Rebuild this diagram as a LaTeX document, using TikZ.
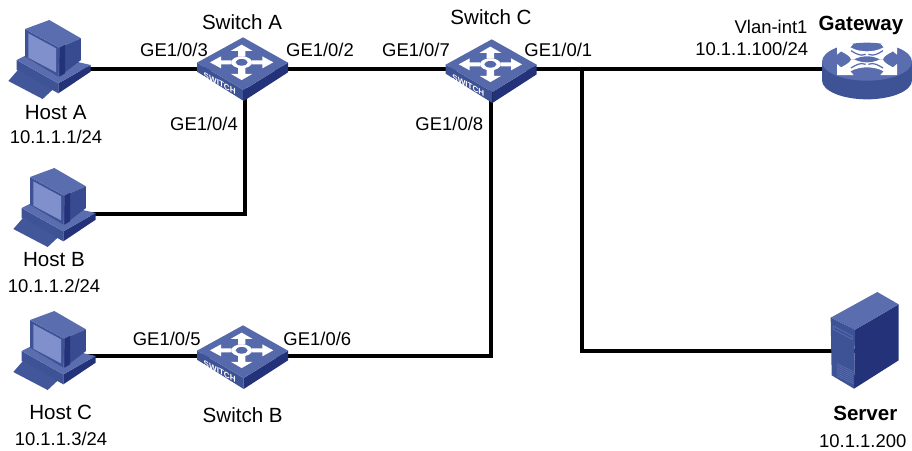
\documentclass[tikz,border=0pt]{standalone}
\usepackage{fontspec}
\setmainfont{Liberation Sans}
\usetikzlibrary{calc}

\definecolor{iconlight}{RGB}{90,110,175}
\definecolor{iconmid}{RGB}{62,82,150}
\definecolor{icondark}{RGB}{36,50,122}
\definecolor{iconscreen}{RGB}{128,144,204}

\tikzset{
    hostpc/.pic={
        \fill[iconmid!85!iconlight] (-125,36) -- (-97,4) -- (8,62) -- (-22,90) -- cycle;
        \fill[iconmid] (-100,-27) -- (25,43) -- (25,73) -- (-100,3) -- cycle;
        \fill[icondark] (25,43) -- (122,-12) -- (122,8) -- (25,73) -- cycle;
        \fill[iconlight] (-100,-27) -- (-50,-52) -- (122,-12) -- (25,43) -- cycle;
        \fill[iconmid] (-75,-120) -- (28,-64) -- (25,23) -- (-75,-37) -- cycle;
        \fill[iconlight] (-75,-120) -- (-2,-147) -- (93,-92) -- (28,-64) -- cycle;
        \fill[iconmid!80!icondark] (28,-64) -- (93,-92) -- (93,-27) -- (28,23) -- cycle;
        \fill[icondark] (28,-64) -- (45,-72) -- (45,13) -- (28,23) -- cycle;
        \fill[iconscreen] (-65,-107) -- (18,-62) -- (18,10) -- (-65,-34) -- cycle;
    },
    switchbox/.pic={
        \fill[iconmid] (-138,-19) -- (2,63) -- (2,96) -- (-138,8) -- cycle;
        \fill[icondark] (2,63) -- (135,-19) -- (135,10) -- (2,96) -- cycle;
        \fill[iconlight!85!iconmid] (-138,-19) -- (0,-95) -- (135,-19) -- (2,63) -- cycle;
        \begin{scope}[shift={(-4,-20)}]
            \foreach \ang in {0,90,180,270} {
                \begin{scope}[yscale=0.56, rotate=\ang]
                    \fill[white] (30,-11) -- (62,-11) -- (62,-32) -- (95,0) -- (62,32) -- (62,11) -- (30,11) -- cycle;
                \end{scope}
            }
            \fill[white] (0,0) ellipse (31 and 18);
            \fill[iconlight!85!iconmid] (0,0) ellipse (18 and 10);
        \end{scope}
        \begin{scope}[shift={(-70,43)}, yslant=-0.55]
            \node[swlabel, transform shape] (swtag) {SWITCH};
        \end{scope}
    },
    gatewaybox/.pic={
        \fill[iconmid] (-135,-22) -- (-135,34) arc[start angle=180, end angle=0, x radius=135, y radius=57] -- (135,-22) -- cycle;
        \fill[iconlight] (0,-22) ellipse (135 and 57);
        \begin{scope}[shift={(0,-29)}]
            \foreach \sx/\sy in {1/1,-1/1,1/-1,-1/-1} {
                \begin{scope}[xscale=\sx, yscale=\sy]
                    \fill[white] (90,47) -- (90,14) -- (78,24) .. controls (60,15) and (50,8) .. (48,0) -- (0,0) -- (0,24) .. controls (15,24) and (35,27) .. (50,36) -- (40,47) -- cycle;
                    \draw[iconlight, line width=0.7pt] (4,15) .. controls (20,8) and (35,18) .. (48,26);
                \end{scope}
            }
            \fill[iconlight] (-38,0) .. controls (-15,-12) and (15,-12) .. (38,0) .. controls (15,12) and (-15,12) .. (-38,0) -- cycle;
        \end{scope}
    },
    serverbox/.pic={
        \fill[icondark] (-30,-64) -- (101,-140) -- (101,28) -- (-33,113) -- cycle;
        \fill[iconlight] (-103,-100) -- (37,-177) -- (101,-140) -- (-30,-64) -- cycle;
        \fill[iconmid] (-103,-100) -- (-30,-64) -- (-33,113) -- (-100,73) -- cycle;
        \foreach \i in {0,...,6} {
            \draw[iconlight, line width=0.4pt] (-85,{38+\i*6}) -- (-35,{62+\i*6});
        }
        \draw[iconlight, line width=0.4pt] (-95,-75) -- (-38,-45) -- (-38,-35) -- (-95,-65) -- cycle;
    }
}

\begin{document}
\begin{tikzpicture}[x=0.02cm, y=-0.02cm,
                    iconbox/.style={inner sep=0pt, minimum size=0pt},
                    portlabel/.style={inner sep=0pt, font=\fontsize{10.5}{12}\selectfont},
                    namelabel/.style={inner sep=0pt, font=\fontsize{11.7}{14}\selectfont},
                    boldlabel/.style={inner sep=0pt, font=\fontsize{11.7}{14}\selectfont\bfseries},
                    swlabel/.style={inner sep=0pt, white, font=\fontsize{4.6}{5}\selectfont\bfseries},
                    link/.style={line width=1.9pt, black},
                    icon/.style={x=0.00667cm, y=-0.00667cm}]

    \useasboundingbox (0,0) rectangle (912,450);

    \node[iconbox] (hosta) at (50,69) {};
    \node[iconbox] (hostb) at (55,214) {};
    \node[iconbox] (hostc) at (55,356) {};
    \node[iconbox] (switcha) at (245,69) {};
    \node[iconbox] (switchb) at (243,356) {};
    \node[iconbox] (switchc) at (491,69) {};
    \node[iconbox] (gateway) at (867,69) {};
    \node[iconbox] (server) at (865,351) {};
    \coordinate (tap) at (582,69);
    \coordinate (hostbicon) at (55,217);
    \coordinate (hostcicon) at (55,360);
    \coordinate (switchaicon) at (243,69);
    \coordinate (switchbicon) at (243,357);
    \coordinate (switchcicon) at (491.7,71);

    \draw[link] (hosta) -- (switcha);
    \draw[link] (hostb) -| (switcha);
    \draw[link] (hostc) -- (switchb);
    \draw[link] (switcha) -- (switchc);
    \draw[link] (switchb) -| (switchc);
    \draw[link] (switchc) -- (gateway);
    \draw[link] (tap) |- (server);

    \pic[icon] at (hosta) {hostpc};
    \pic[icon] at (hostbicon) {hostpc};
    \pic[icon] at (hostcicon) {hostpc};
    \pic[icon] at (switchaicon) {switchbox};
    \pic[icon] at (switchbicon) {switchbox};
    \pic[icon] at (switchcicon) {switchbox};
    \pic[icon] at (gateway) {gatewaybox};
    \pic[icon] at (server) {serverbox};

    \node[namelabel] (labhosta) at (55.7,112.7) {Host A};
    \node[portlabel] (iphosta) at (56,137) {10.1.1.1/24};
    \node[namelabel] (labhostb) at (54,260) {Host B};
    \node[portlabel] (iphostb) at (54,286) {10.1.1.2/24};
    \node[namelabel] (labhostc) at (60.7,412.7) {Host C};
    \node[portlabel] (iphostc) at (61,439) {10.1.1.3/24};
    \node[namelabel] (labswitcha) at (242,22) {Switch A};
    \node[namelabel] (labswitchb) at (242.7,415) {Switch B};
    \node[namelabel] (labswitchc) at (491,16.7) {Switch C};
    \node[portlabel] (porta3) at (174,50) {GE1/0/3};
    \node[portlabel] (porta2) at (320,50) {GE1/0/2};
    \node[portlabel] (porta4) at (204,124.3) {GE1/0/4};
    \node[portlabel] (portb5) at (166.7,339.3) {GE1/0/5};
    \node[portlabel] (portb6) at (317.3,339.3) {GE1/0/6};
    \node[portlabel] (portc7) at (416,50) {GE1/0/7};
    \node[portlabel] (portc1) at (558.3,50) {GE1/0/1};
    \node[portlabel] (portc8) at (449.3,124.3) {GE1/0/8};
    \node[portlabel] (vlan) at (771,26.7) {Vlan-int1};
    \node[portlabel] (ipgateway) at (751.7,49) {10.1.1.100/24};
    \node[boldlabel] (labgateway) at (861,25) {Gateway};
    \node[boldlabel] (labserver) at (865.3,413) {Server};
    \node[portlabel] (ipserver) at (862.7,440.7) {10.1.1.200};
\end{tikzpicture}
\end{document}
